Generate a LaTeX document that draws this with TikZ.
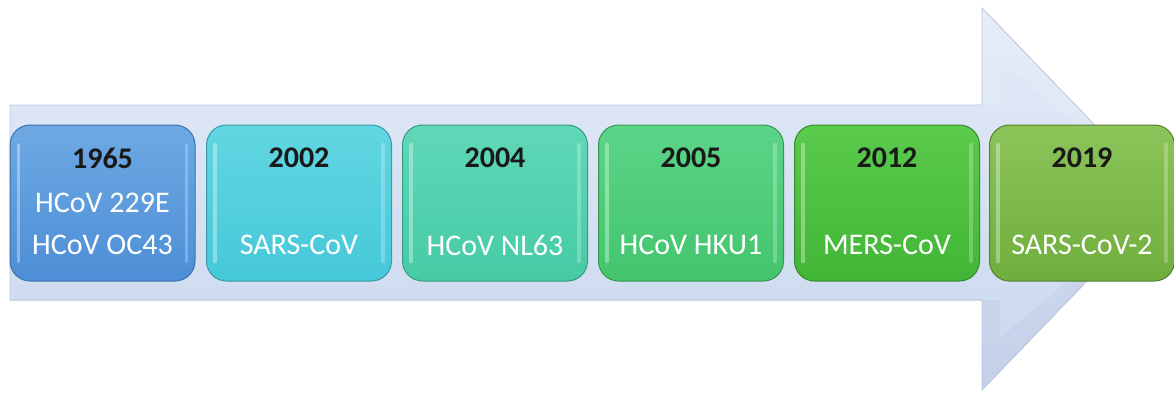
\documentclass[tikz,border=0pt]{standalone}
\usepackage{fontspec}
\setmainfont{Carlito}
\begin{document}
\begin{tikzpicture}[x=1pt,y=-1pt,
  yearbox/.style={rounded corners=20pt, minimum width=185pt, minimum height=156pt,
    inner sep=0pt, line width=1pt},
  glint/.style={draw=white, draw opacity=0.35, line width=3.5pt, line cap=round},
  yeartext/.style={font=\fontsize{30}{36}\selectfont\bfseries, text=black!90, inner sep=0pt},
  virustext/.style={font=\fontsize{30}{36}\selectfont, text=white, inner sep=0pt}]
\useasboundingbox (0,0) rectangle (1174,392);
% timeline arrow
\fill[top color={rgb,255:red,226;green,235;blue,248}, bottom color={rgb,255:red,202;green,215;blue,237}]
  (10,105) -- (982,105) -- (982,8) -- (1166,199) -- (982,390) -- (982,300) -- (10,300) -- cycle;
% soft bevel of the arrow head
\fill[white, opacity=0.12] (982,8) -- (1166,199) -- (1000,60) -- (1000,105) -- (982,105) -- cycle;
\fill[blue!40!black, opacity=0.03] (982,390) -- (1166,199) -- (1000,338) -- (1000,300) -- (982,300) -- cycle;
\draw[line width=0.8pt, draw={rgb,255:red,188;green,200;blue,224}]
  (10,105) -- (982,105) -- (982,8) -- (1166,199) -- (982,390) -- (982,300) -- (10,300) -- cycle;
% year boxes
\foreach \i/\cx/\tc/\bc/\dc in {
  1/102.5/{110,169,227}/{77,142,214}/{63,114,168},
  2/299.0/{98,214,226}/{69,200,216}/{58,154,165},
  3/495.0/{96,216,184}/{69,203,165}/{58,154,128},
  4/691.0/{92,212,136}/{67,197,108}/{55,150,85},
  5/887.0/{90,203,76}/{67,181,54}/{55,138,45},
  6/1082.0/{140,196,90}/{111,174,60}/{85,127,48}} {
  \definecolor{tc\i}{RGB}{\tc}
  \definecolor{bc\i}{RGB}{\bc}
  \definecolor{dc\i}{RGB}{\dc}
  \node[yearbox, draw=dc\i, top color=tc\i, bottom color=bc\i] (box\i) at (\cx,203) {};
  \draw[glint] ([xshift=9pt,yshift=-20pt]box\i.north west) -- ([xshift=9pt,yshift=20pt]box\i.south west);
  \draw[glint, draw opacity=0.25] ([xshift=-9pt,yshift=-20pt]box\i.north east) -- ([xshift=-9pt,yshift=20pt]box\i.south east);
}
% texts
\node[yeartext] (y1) at ([yshift=45pt]box1.center) {1965};
\node[yeartext] (y2) at ([yshift=45pt]box2.center) {2002};
\node[yeartext] (y3) at ([yshift=45pt]box3.center) {2004};
\node[yeartext] (y4) at ([yshift=45pt]box4.center) {2005};
\node[yeartext] (y5) at ([yshift=45pt]box5.center) {2012};
\node[yeartext] (y6) at ([yshift=45pt]box6.center) {2019};
\node[virustext] (v1a) at ([yshift=0pt]box1.center) {HCoV 229E};
\node[virustext] (v1b) at ([yshift=-42pt]box1.center) {HCoV OC43};
\node[virustext] (v2) at ([yshift=-42pt]box2.center) {SARS-CoV};
\node[virustext] (v3) at ([yshift=-42pt]box3.center) {HCoV NL63};
\node[virustext] (v4) at ([yshift=-42pt]box4.center) {HCoV HKU1};
\node[virustext] (v5) at ([yshift=-42pt]box5.center) {MERS-CoV};
\node[virustext] (v6) at ([yshift=-42pt]box6.center) {SARS-CoV-2};
\end{tikzpicture}
\end{document}
